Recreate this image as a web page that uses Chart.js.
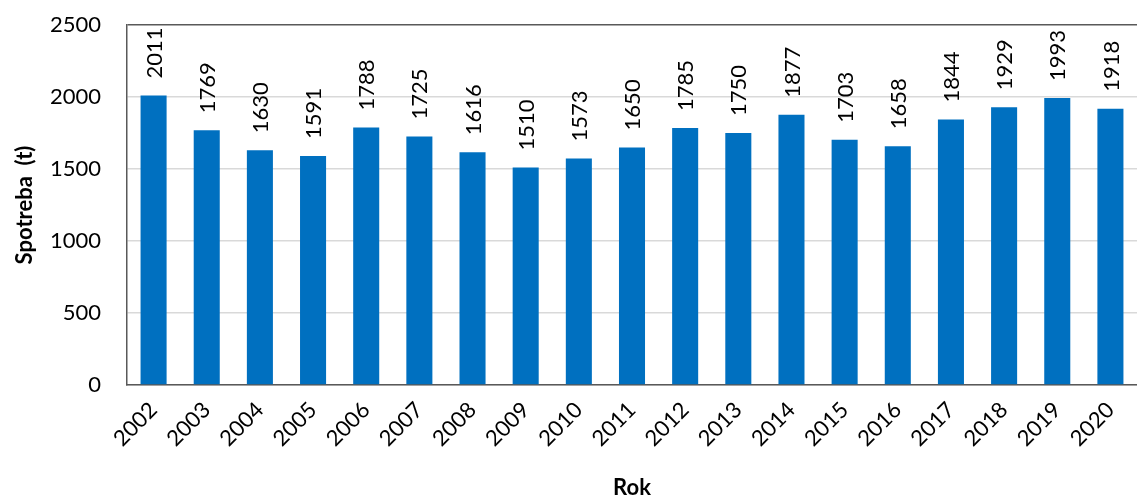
<!DOCTYPE html>
<html>
<head>
<meta charset="utf-8">
<script src="https://cdn.jsdelivr.net/npm/chart.js@4/dist/chart.umd.min.js"></script>
<style>
  body { margin: 0; background: #fff; }
  #wrap { width: 1137px; height: 501px; position: relative; }
</style>
</head>
<body>
<div id="wrap"><canvas id="spotreba"></canvas></div>
<script>
var years = ['2002', '2003', '2004', '2005', '2006', '2007', '2008', '2009', '2010', '2011',
    '2012', '2013', '2014', '2015', '2016', '2017', '2018', '2019', '2020'];
var consumption = [2011, 1769, 1630, 1591, 1788, 1725, 1616, 1510, 1573, 1650,
    1785, 1750, 1877, 1703, 1658, 1844, 1929, 1993, 1918];
var yTicks = [0, 500, 1000, 1500, 2000, 2500];

var fontName = 'Lato, "Open Sans", sans-serif';

// labels above bars, turned 90 degrees
var valueLabels = {
    id: 'valueLabels',
    afterDatasetsDraw: function(chart) {
        var ctx = chart.ctx;
        var meta = chart.getDatasetMeta(0);
        ctx.save();
        ctx.font = '22px ' + fontName;
        ctx.fillStyle = '#000';
        ctx.textAlign = 'left';
        ctx.textBaseline = 'middle';
        meta.data.forEach(function(bar, i) {
            ctx.save();
            ctx.translate(bar.x + 1, bar.y - 17);
            ctx.rotate(-Math.PI / 2);
            ctx.fillText(String(consumption[i]), 0, 0);
            ctx.restore();
        });
        ctx.restore();
    }
};

var el = document.getElementById('spotreba');
var chart = new Chart(el, {
    type: 'bar',
    data: {
        labels: years,
        datasets: [{
            label: 'Spotreba',
            data: consumption,
            backgroundColor: '#0070c0',
            borderWidth: 0,
            barPercentage: 0.49,
            categoryPercentage: 1
        }]
    },
    options: {
        responsive: true,
        maintainAspectRatio: false,
        animation: false,
        layout: { padding: { top: 25, right: 0, left: 0, bottom: 0 } },
        plugins: {
            legend: { display: false },
            tooltip: { enabled: false }
        },
        scales: {
            x: {
                grid: { display: false },
                border: { color: '#595959', width: 1.5 },
                ticks: {
                    color: '#000',
                    font: { family: fontName, size: 22 },
                    minRotation: 45,
                    maxRotation: 45,
                    padding: 4
                },
                title: {
                    display: true,
                    text: 'Rok',
                    color: '#000',
                    font: { family: fontName, size: 22, weight: 'bold' },
                    padding: { top: 0, bottom: 0 }
                },
                afterFit: function(scale) { scale.height = 116; }
            },
            y: {
                min: 0,
                max: 2500,
                afterBuildTicks: function(scale) {
                    scale.ticks = yTicks.map(function(v) { return { value: v }; });
                },
                grid: {
                    color: function(c) { return c.tick && c.tick.value === 2500 ? '#595959' : '#d9d9d9'; },
                    lineWidth: 1.5,
                    tickColor: 'rgba(0,0,0,0)',
                    tickLength: 22
                },
                border: { color: '#595959', width: 1.5 },
                ticks: {
                    color: '#000',
                    font: { family: fontName, size: 22 },
                    padding: 4,
                    callback: function(v) { return String(v); }
                },
                title: {
                    display: true,
                    text: 'Spotreba  (t)',
                    color: '#000',
                    font: { family: fontName, size: 22, weight: 'bold' },
                    padding: { top: 12, bottom: 4 }
                },
                afterFit: function(scale) { scale.width = 127; }
            }
        }
    },
    plugins: [valueLabels]
});
</script>
</body>
</html>
